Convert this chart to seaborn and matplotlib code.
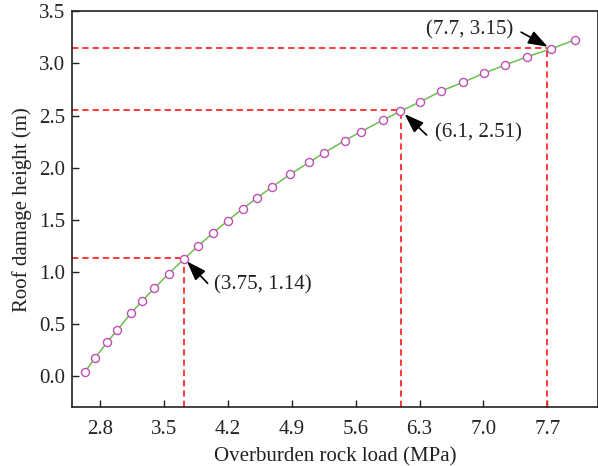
import numpy as np
import pandas as pd
import matplotlib
matplotlib.use("Agg")
import matplotlib.pyplot as plt
import seaborn as sns

# ---- data ----
load_mpa = [2.636, 2.745, 2.88, 2.99, 3.145, 3.266, 3.397, 3.554, 3.718, 3.88,
            4.035, 4.20, 4.363, 4.522, 4.685, 4.885, 5.09, 5.251, 5.479, 5.656,
            5.898, 6.087, 6.303, 6.538, 6.778, 7.003, 7.237, 7.477, 7.743, 7.998]
damage_m = [0.038, 0.17, 0.323, 0.441, 0.605, 0.723, 0.842, 0.982, 1.12, 1.25,
            1.37, 1.49, 1.605, 1.71, 1.814, 1.936, 2.05, 2.14, 2.258, 2.344,
            2.455, 2.54, 2.63, 2.735, 2.82, 2.905, 2.985, 3.064, 3.141, 3.225]

guide_x = [3.72, 6.10, 7.70]
guide_y = [1.13, 2.55, 3.15]
guide_labels = ["(3.75, 1.14)", "(6.1, 2.51)", "(7.7, 3.15)"]
label_pos = [(4.05, 0.873), (6.465, 2.335), (6.366, 3.32)]
arrow_tail = [(3.98, 0.89), (6.377, 2.313), (7.412, 3.30)]
arrow_tip = [(3.754, 1.10), (6.137, 2.514), (7.703, 3.16)]

x_ticks = [2.8, 3.5, 4.2, 4.9, 5.6, 6.3, 7.0, 7.7]
y_ticks = [0.0, 0.5, 1.0, 1.5, 2.0, 2.5, 3.0, 3.5]

df = pd.DataFrame({"load": load_mpa, "damage": damage_m})

sns.set_theme(style="ticks")
plt.rcParams["font.family"] = ["Liberation Serif", "DejaVu Serif"]
plt.rcParams["font.size"] = 15

fig = plt.figure(figsize=(5.98, 4.66), dpi=100)
ax = fig.add_axes([0.121, 0.126, 0.8785, 0.8497])

xlim = (2.5, 8.25)
ylim = (-0.3, 3.5)
ax.set_xlim(*xlim)
ax.set_ylim(*ylim)

red = "#ff2a2a"
for gx, gy in zip(guide_x, guide_y):
    ax.vlines(gx, ylim[0], gy, colors=red, linestyles=(0, (3.5, 2.2)), lw=1.3, zorder=2)
    ax.hlines(gy, xlim[0], gx, colors=red, linestyles=(0, (3.5, 2.2)), lw=1.3, zorder=2)

sns.lineplot(data=df, x="load", y="damage", ax=ax, color="#6cc04a", lw=1.1,
             marker="o", markersize=5.8, markerfacecolor="white",
             markeredgecolor="#bf4fb6", markeredgewidth=1.0, zorder=3)

for txt, pos, tail, tip in zip(guide_labels, label_pos, arrow_tail, arrow_tip):
    ax.annotate("", xy=tip, xytext=tail,
                arrowprops=dict(arrowstyle="-|>,head_length=0.85,head_width=0.3",
                                color="black", lw=1.2, shrinkA=0, shrinkB=0,
                                mutation_scale=14),
                zorder=4)
    ax.text(pos[0], pos[1], txt, ha="left", va="center", fontsize=15, color="#222222")

ax.set_xticks(x_ticks)
ax.set_xticklabels([f"{v:.1f}" for v in x_ticks])
ax.set_yticks(y_ticks)
ax.set_yticklabels([f"{v:.1f}" for v in y_ticks])
ax.tick_params(direction="in", length=5, width=1.0, pad=5, labelsize=15,
               colors="#222222")
ax.tick_params(axis="x", pad=9)
for s in ax.spines.values():
    s.set_linewidth(1.2)
    s.set_color("#222222")

ax.set_xlabel("Overburden rock load (MPa)", fontsize=15, labelpad=6, color="#222222")
ax.set_ylabel("Roof damage height (m)", fontsize=15, labelpad=5, color="#222222")

fig.savefig("out.png", dpi=100)
